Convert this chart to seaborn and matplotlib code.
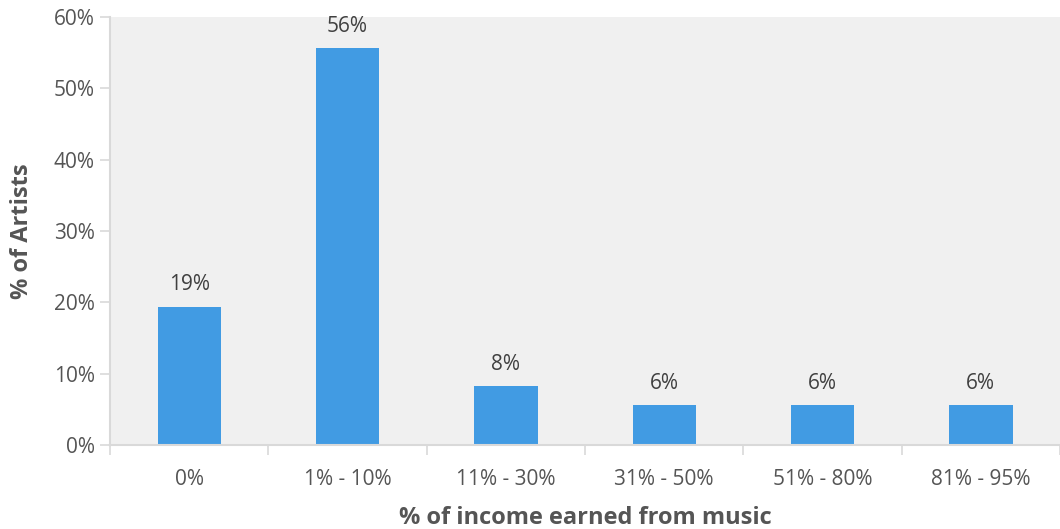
import matplotlib
matplotlib.use("Agg")
import matplotlib.pyplot as plt
import seaborn as sns
import pandas as pd
import numpy as np
from matplotlib.ticker import FixedLocator, PercentFormatter

categories = ["0%", "1% - 10%", "11% - 30%", "31% - 50%", "51% - 80%", "81% - 95%"]
values = [19.4, 55.6, 8.3, 5.6, 5.6, 5.6]
labels = ["19%", "56%", "8%", "6%", "6%", "6%"]

sns.set_theme(style="white")
plt.rcParams['font.family'] = ['Open Sans', 'DejaVu Sans']

df = pd.DataFrame({"cat": categories, "val": values})

fig = plt.figure(figsize=(10.6, 5.29), dpi=100)
ax = fig.add_axes([0.1038, 0.1588, 0.8962, 0.8091])
ax.set_facecolor("#f0f0f0")

sns.barplot(data=df, x="cat", y="val", color="#419be3", saturation=1, width=0.4,
            linewidth=0, ax=ax)

for i, (v, t) in enumerate(zip(values, labels)):
    ax.annotate(t, (i, v), xytext=(0, 8), textcoords="offset points",
                ha="center", va="bottom", fontsize=15, color="#404040")

ax.set_ylim(0, 60)
ax.set_xlim(-0.5, len(categories) - 0.5)
ax.yaxis.set_major_locator(FixedLocator([0, 10, 20, 30, 40, 50, 60]))
ax.yaxis.set_major_formatter(PercentFormatter(decimals=0))

ax.set_xticks(np.arange(len(categories)))
ax.set_xticklabels(categories)
ax.xaxis.set_minor_locator(FixedLocator(np.arange(-0.5, len(categories), 1.0)))
ax.tick_params(axis="x", which="major", length=0, pad=17, labelsize=15, labelcolor="#555555")
ax.tick_params(axis="x", which="minor", length=7, width=1.2, color="#d9d9d9", bottom=True)
ax.tick_params(axis="y", which="major", length=7, width=1.2, color="#d9d9d9", left=True,
               pad=4, labelsize=15, labelcolor="#555555")

for s in ["top", "right"]:
    ax.spines[s].set_visible(False)
for s in ["left", "bottom"]:
    ax.spines[s].set_color("#d9d9d9")
    ax.spines[s].set_linewidth(1.5)

ax.set_xlabel("% of income earned from music", fontsize=17, fontweight="bold", color="#555555", labelpad=12)
ax.set_ylabel("% of Artists", fontsize=17, fontweight="bold", color="#555555", labelpad=14)

fig.savefig("out.png", dpi=100)
